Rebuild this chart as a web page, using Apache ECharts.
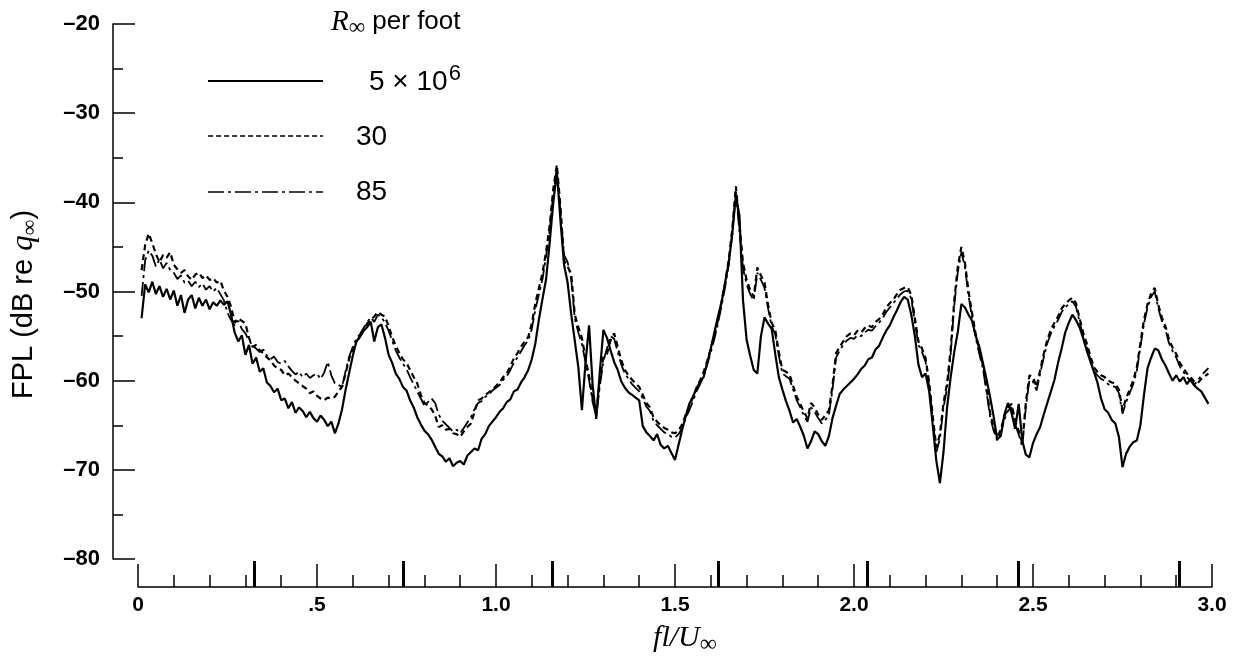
<!DOCTYPE html>
<html>
<head>
<meta charset="utf-8">
<title>FPL spectra</title>
<script src="https://cdn.jsdelivr.net/npm/echarts@6/dist/echarts.min.js"></script>
<style>
  html, body { margin: 0; padding: 0; background: #fff; }
  #chart { width: 1238px; height: 658px; }
</style>
</head>
<body>
<div id="chart"></div>
<script>
// frequency parameter fl/U∞
const freq = [
  0.01,0.02,0.03,0.04,0.05,0.06,0.07,0.08,0.09,0.10,
  0.11,0.12,0.13,0.14,0.15,0.16,0.17,0.18,0.19,0.20,
  0.21,0.22,0.23,0.24,0.25,0.26,0.27,0.28,0.29,0.30,
  0.31,0.32,0.33,0.34,0.35,0.36,0.37,0.38,0.39,0.40,
  0.41,0.42,0.43,0.44,0.45,0.46,0.47,0.48,0.49,0.50,
  0.51,0.52,0.53,0.54,0.55,0.56,0.57,0.58,0.59,0.60,
  0.61,0.62,0.63,0.64,0.65,0.66,0.67,0.68,0.69,0.70,
  0.71,0.72,0.73,0.74,0.75,0.76,0.77,0.78,0.79,0.80,
  0.81,0.82,0.83,0.84,0.85,0.86,0.87,0.88,0.89,0.90,
  0.91,0.92,0.93,0.94,0.95,0.96,0.97,0.98,0.99,1.00,
  1.01,1.02,1.03,1.04,1.05,1.06,1.07,1.08,1.09,1.10,
  1.11,1.12,1.13,1.14,1.15,1.16,1.17,1.18,1.19,1.20,
  1.21,1.22,1.23,1.24,1.25,1.26,1.27,1.28,1.29,1.30,
  1.31,1.32,1.33,1.34,1.35,1.36,1.37,1.38,1.39,1.40,
  1.41,1.42,1.43,1.44,1.45,1.46,1.47,1.48,1.49,1.50,
  1.51,1.52,1.53,1.54,1.55,1.56,1.57,1.58,1.59,1.60,
  1.61,1.62,1.63,1.64,1.65,1.66,1.67,1.68,1.69,1.70,
  1.71,1.72,1.73,1.74,1.75,1.76,1.77,1.78,1.79,1.80,
  1.81,1.82,1.83,1.84,1.85,1.86,1.87,1.88,1.89,1.90,
  1.91,1.92,1.93,1.94,1.95,1.96,1.97,1.98,1.99,2.00,
  2.01,2.02,2.03,2.04,2.05,2.06,2.07,2.08,2.09,2.10,
  2.11,2.12,2.13,2.14,2.15,2.16,2.17,2.18,2.19,2.20,
  2.21,2.22,2.23,2.24,2.25,2.26,2.27,2.28,2.29,2.30,
  2.31,2.32,2.33,2.34,2.35,2.36,2.37,2.38,2.39,2.40,
  2.41,2.42,2.43,2.44,2.45,2.46,2.47,2.48,2.49,2.50,
  2.51,2.52,2.53,2.54,2.55,2.56,2.57,2.58,2.59,2.60,
  2.61,2.62,2.63,2.64,2.65,2.66,2.67,2.68,2.69,2.70,
  2.71,2.72,2.73,2.74,2.75,2.76,2.77,2.78,2.79,2.80,
  2.81,2.82,2.83,2.84,2.85,2.86,2.87,2.88,2.89,2.90,
  2.91,2.92,2.93,2.94,2.95,2.96,2.97,2.98,2.99
];

// R∞ = 5 x 10^6 per foot (solid)
const fpl5e6 = [
  -53.0,-49.2,-50.1,-48.9,-50.3,-49.4,-50.6,-49.7,-50.9,-49.9,
  -51.6,-50.4,-52.4,-50.9,-50.4,-51.9,-50.7,-51.6,-50.9,-52.0,
  -51.2,-51.6,-51.0,-51.5,-51.1,-52.6,-54.6,-55.6,-54.9,-57.1,
  -56.0,-58.1,-57.4,-59.0,-58.6,-60.2,-60.6,-61.3,-60.9,-62.2,
  -62.0,-63.1,-62.4,-63.6,-63.0,-63.4,-64.1,-63.5,-64.2,-64.6,
  -63.9,-64.4,-65.1,-64.6,-65.9,-64.8,-63.2,-61.0,-59.1,-57.2,
  -55.6,-55.1,-54.4,-54.0,-53.4,-55.6,-54.0,-53.7,-55.2,-57.1,
  -58.0,-59.2,-59.8,-60.7,-61.1,-62.2,-63.0,-64.1,-64.9,-65.6,
  -66.0,-66.6,-67.4,-68.2,-68.5,-69.1,-68.7,-69.6,-69.2,-69.0,
  -69.4,-68.4,-68.0,-67.6,-67.8,-66.5,-66.0,-65.1,-64.6,-64.1,
  -63.5,-63.1,-62.4,-62.1,-61.2,-61.0,-60.2,-59.6,-58.8,-57.6,
  -55.8,-53.1,-50.8,-48.6,-44.5,-40.0,-36.6,-42.0,-47.0,-49.0,
  -52.5,-55.5,-58.5,-63.3,-58.0,-53.8,-60.5,-64.3,-59.0,-54.3,
  -55.2,-56.6,-57.9,-58.8,-60.1,-60.8,-61.3,-61.6,-61.9,-62.2,
  -65.1,-65.8,-66.2,-66.7,-66.0,-67.2,-67.6,-67.3,-68.1,-68.9,
  -67.2,-65.5,-64.0,-62.6,-61.8,-60.9,-60.1,-59.6,-58.0,-56.4,
  -54.6,-52.8,-51.2,-49.0,-46.8,-43.5,-39.2,-41.5,-51.0,-55.4,
  -57.2,-58.8,-59.2,-55.0,-52.9,-53.6,-54.2,-57.0,-59.6,-61.0,
  -62.3,-63.4,-64.7,-64.3,-65.2,-66.2,-67.6,-66.8,-65.7,-66.0,
  -66.8,-67.3,-66.2,-64.2,-62.8,-61.5,-61.0,-60.6,-60.2,-59.8,
  -59.3,-58.7,-58.3,-57.6,-57.4,-56.5,-56.1,-55.2,-54.4,-53.8,
  -52.9,-52.1,-51.2,-50.6,-50.9,-52.6,-55.0,-58.2,-59.6,-59.2,
  -61.2,-65.0,-69.0,-71.5,-68.0,-63.0,-59.6,-56.8,-54.5,-51.4,
  -51.8,-52.6,-53.3,-55.0,-56.2,-58.0,-59.8,-61.8,-64.0,-66.6,
  -66.2,-63.8,-62.5,-63.6,-65.4,-62.6,-66.7,-68.3,-68.6,-67.0,
  -66.0,-65.2,-63.8,-62.5,-61.2,-59.9,-58.0,-56.4,-54.6,-53.5,
  -52.6,-53.2,-54.0,-55.2,-56.6,-57.8,-59.0,-60.2,-62.0,-63.2,
  -63.6,-64.4,-64.8,-66.3,-69.7,-68.2,-67.4,-66.9,-66.7,-65.0,
  -61.6,-58.6,-57.4,-56.4,-56.6,-57.6,-58.3,-59.2,-60.0,-59.4,
  -60.1,-59.6,-60.4,-59.8,-60.5,-60.9,-61.2,-61.9,-62.6
];

// R∞ = 30 x 10^6 per foot (dashed)
const fpl30 = [
  -47.6,-44.8,-43.5,-44.6,-45.8,-46.7,-45.9,-46.2,-45.6,-47.0,
  -47.5,-47.9,-47.6,-48.3,-48.7,-48.1,-47.9,-48.5,-48.2,-48.7,
  -48.5,-49.0,-48.8,-49.9,-50.6,-51.7,-53.5,-53.0,-53.3,-53.6,
  -55.2,-56.2,-56.0,-56.6,-56.9,-57.4,-57.7,-58.3,-58.6,-58.8,
  -59.4,-59.2,-59.6,-60.0,-60.3,-60.6,-60.9,-61.4,-61.2,-61.7,
  -62.0,-62.2,-61.9,-62.0,-61.8,-61.2,-60.7,-59.2,-57.5,-56.4,
  -55.6,-55.1,-54.4,-53.6,-53.2,-52.8,-52.3,-52.6,-52.8,-53.9,
  -55.1,-56.1,-56.9,-57.6,-58.0,-58.8,-59.6,-60.3,-61.6,-62.5,
  -62.8,-63.2,-63.9,-65.2,-65.0,-65.5,-65.4,-65.9,-66.0,-66.3,
  -65.7,-65.2,-64.8,-63.5,-62.2,-62.0,-61.6,-61.3,-61.0,-60.6,
  -60.2,-59.6,-59.2,-58.4,-57.5,-56.9,-56.2,-55.6,-55.1,-53.6,
  -51.3,-49.6,-47.9,-45.5,-42.6,-38.5,-35.8,-40.5,-46.5,-47.2,
  -48.0,-52.6,-54.0,-55.2,-57.5,-59.5,-62.0,-63.6,-60.0,-57.3,
  -57.0,-55.5,-54.7,-56.2,-57.7,-58.8,-59.4,-59.9,-60.3,-60.7,
  -61.6,-62.5,-63.0,-64.1,-64.6,-65.0,-65.3,-65.5,-65.8,-65.9,
  -65.6,-64.9,-63.8,-62.9,-61.9,-60.8,-60.0,-59.0,-57.8,-56.4,
  -54.9,-53.2,-51.2,-49.0,-46.5,-43.0,-38.2,-42.5,-46.8,-48.7,
  -49.8,-50.6,-47.3,-48.2,-49.0,-51.5,-53.5,-54.3,-56.8,-58.8,
  -59.0,-59.3,-60.6,-61.8,-62.6,-63.5,-64.2,-62.5,-63.0,-63.8,
  -64.4,-63.9,-63.3,-60.5,-56.9,-56.2,-55.6,-55.0,-54.7,-54.9,
  -54.4,-54.6,-54.1,-53.8,-54.0,-53.4,-53.1,-52.6,-51.8,-51.3,
  -50.9,-50.3,-49.8,-49.6,-49.5,-50.4,-53.0,-55.6,-56.4,-57.5,
  -60.2,-64.0,-67.5,-66.0,-62.5,-60.3,-56.5,-51.0,-47.2,-45.0,
  -46.8,-50.0,-52.5,-54.8,-56.6,-58.2,-60.8,-63.6,-65.2,-66.3,
  -65.5,-64.0,-63.0,-62.6,-64.5,-65.6,-67.0,-62.5,-59.4,-59.6,
  -60.7,-58.8,-57.0,-55.4,-54.3,-53.5,-52.8,-51.9,-51.4,-51.0,
  -50.7,-51.3,-53.0,-54.6,-55.8,-57.2,-58.5,-59.0,-59.4,-59.6,
  -60.0,-60.2,-60.3,-61.0,-63.3,-62.0,-61.0,-60.0,-58.5,-55.8,
  -53.2,-51.4,-50.2,-49.6,-51.5,-52.9,-53.9,-55.4,-56.3,-57.0,
  -58.0,-58.6,-59.2,-59.6,-60.1,-60.3,-59.8,-59.5,-59.2
];

// R∞ = 85 x 10^6 per foot (dash-dot)
const fpl85 = [
  -50.5,-46.5,-45.4,-46.0,-47.2,-46.4,-47.4,-46.8,-47.6,-47.9,
  -48.6,-48.2,-49.0,-48.8,-49.4,-48.9,-49.5,-49.1,-49.8,-49.4,
  -50.0,-49.6,-50.3,-51.0,-52.4,-53.2,-53.8,-53.3,-54.2,-54.7,
  -55.5,-56.0,-56.4,-56.8,-56.5,-57.2,-57.6,-57.3,-57.9,-58.1,
  -57.8,-58.4,-58.9,-59.3,-59.0,-59.6,-59.2,-59.7,-59.4,-59.2,
  -59.8,-59.1,-57.9,-59.4,-60.3,-60.5,-60.7,-58.9,-57.3,-56.2,
  -55.3,-54.8,-54.1,-53.5,-52.9,-53.4,-52.6,-52.9,-53.5,-54.4,
  -55.5,-56.6,-57.4,-58.1,-58.7,-59.6,-60.4,-61.2,-62.0,-62.8,
  -62.4,-62.0,-62.5,-63.8,-64.5,-64.9,-65.3,-65.7,-65.5,-65.9,
  -65.3,-64.7,-64.1,-63.2,-62.5,-62.3,-61.8,-61.6,-61.1,-60.8,
  -60.5,-59.9,-59.5,-58.8,-58.0,-57.4,-56.7,-56.0,-55.5,-54.2,
  -52.0,-50.3,-48.6,-46.0,-43.1,-39.0,-36.2,-41.0,-45.9,-46.7,
  -48.6,-53.0,-54.6,-55.9,-57.9,-59.9,-62.4,-64.0,-60.6,-57.8,
  -56.4,-55.0,-55.3,-56.8,-58.2,-59.2,-59.8,-60.4,-60.8,-61.2,
  -62.0,-62.9,-63.4,-64.5,-65.0,-65.4,-65.8,-66.0,-66.3,-66.4,
  -66.0,-65.3,-64.2,-63.3,-62.3,-61.2,-60.4,-59.5,-58.2,-56.8,
  -55.3,-53.6,-51.6,-49.5,-47.0,-43.6,-38.8,-43.2,-47.4,-49.2,
  -50.3,-51.0,-47.9,-48.7,-49.6,-51.9,-53.9,-54.8,-57.2,-59.2,
  -59.5,-59.8,-61.0,-62.2,-63.0,-63.9,-64.6,-63.0,-63.5,-64.2,
  -64.8,-64.4,-63.8,-61.0,-57.4,-56.6,-56.0,-55.5,-55.2,-55.3,
  -54.9,-55.0,-54.6,-54.3,-54.4,-53.9,-53.5,-53.0,-52.3,-51.8,
  -51.3,-50.8,-50.3,-50.0,-49.9,-50.8,-53.4,-56.0,-56.8,-57.9,
  -60.6,-64.4,-68.0,-66.5,-63.0,-60.8,-57.0,-51.6,-47.8,-45.6,
  -47.3,-50.5,-53.0,-55.2,-57.0,-58.6,-61.2,-64.0,-65.6,-66.7,
  -65.9,-64.4,-63.4,-63.0,-64.9,-66.0,-67.4,-63.0,-59.9,-60.1,
  -61.1,-59.2,-57.4,-55.8,-54.7,-53.9,-53.2,-52.3,-51.8,-51.4,
  -51.1,-51.7,-53.4,-55.0,-56.2,-57.6,-58.9,-59.4,-59.8,-60.0,
  -60.4,-60.6,-60.7,-61.4,-63.7,-62.4,-61.4,-60.4,-58.9,-56.2,
  -53.6,-51.8,-50.6,-50.0,-51.9,-53.3,-54.3,-55.8,-56.7,-57.4,
  -58.4,-59.0,-59.6,-60.0,-60.5,-60.0,-59.4,-59.0,-58.6
];

// tall marker ticks along the frequency axis
const markerTicks = [0.325, 0.742, 1.158, 1.62, 2.038, 2.46, 2.908];
const xTickLabels = ['0', '.5', '1.0', '1.5', '2.0', '2.5', '3.0'];
const legendLabels = ['30', '85'];

const black = '#000';
const sans = 'Liberation Sans';
const serif = 'Liberation Serif';

function pairs(ys) {
  return freq.map((f, i) => [f, ys[i]]);
}

const option = {
  animation: false,
  backgroundColor: '#fff',
  grid: { left: 138, right: 26, top: 24, bottom: 99, outerBoundsMode: 'none' },
  xAxis: [
    {
      type: 'value',
      position: 'bottom',
      min: 0,
      max: 3,
      interval: 0.5,
      offset: 28,
      axisLine: { show: true, onZero: false, lineStyle: { color: black, width: 1.5 } },
      axisTick: { show: true, inside: true, length: 23, lineStyle: { color: black, width: 1.5 } },
      minorTick: { show: true, splitNumber: 5, length: 12, lineStyle: { color: black, width: 1.5 } },
      splitLine: { show: false },
      axisLabel: {
        color: black,
        fontSize: 21,
        fontWeight: 'bold',
        fontFamily: sans,
        margin: 8,
        formatter: function (v) {
          return xTickLabels[Math.round(v / 0.5)];
        }
      },
      name: '{i|fl/U}{s|∞}',
      nameLocation: 'middle',
      nameGap: 32,
      nameTextStyle: {
        padding: [0, 0, 0, 20],
        rich: {
          i: { fontFamily: serif, fontStyle: 'italic', fontSize: 30, color: black },
          s: { fontFamily: serif, fontSize: 24, color: black, padding: [14, 0, 0, 0] }
        }
      }
    },
    {
      type: 'value',
      position: 'bottom',
      min: 0,
      max: 3,
      offset: 28,
      axisLine: { show: false, onZero: false },
      axisTick: {
        show: true,
        inside: true,
        length: 26,
        customValues: markerTicks,
        lineStyle: { color: black, width: 3 }
      },
      axisLabel: { show: false },
      splitLine: { show: false }
    }
  ],
  yAxis: {
    type: 'value',
    min: -80,
    max: -20,
    interval: 10,
    offset: 25,
    axisLine: { show: true, onZero: false, lineStyle: { color: black, width: 1.5 } },
    axisTick: { show: true, inside: true, length: 22, lineStyle: { color: black, width: 1.5 } },
    minorTick: { show: true, splitNumber: 2, length: 10, lineStyle: { color: black, width: 1.5 } },
    splitLine: { show: false },
    axisLabel: {
      color: black,
      fontSize: 22,
      fontWeight: 'bold',
      fontFamily: sans,
      margin: 13,
      formatter: function (v) {
        return v < 0 ? '\u2013' + (-v) : String(v);
      }
    },
    name: '{a|FPL (dB re }{q|q}{s|∞}{a|)}',
    nameLocation: 'middle',
    nameGap: 72,
    nameTextStyle: {
      padding: [0, 26, 0, 0],
      rich: {
        a: { fontFamily: sans, fontSize: 29, color: black },
        q: { fontFamily: serif, fontStyle: 'italic', fontSize: 31, color: black },
        s: { fontFamily: serif, fontSize: 22, color: black, padding: [12, 0, 0, 0] }
      }
    }
  },
  series: [
    {
      name: '5 × 10^6',
      type: 'line',
      showSymbol: false,
      data: pairs(fpl5e6),
      lineStyle: { color: black, width: 2.2 }
    },
    {
      name: '30',
      type: 'line',
      showSymbol: false,
      data: pairs(fpl30),
      lineStyle: { color: black, width: 2.2, type: [6, 4] }
    },
    {
      name: '85',
      type: 'line',
      showSymbol: false,
      data: pairs(fpl85),
      lineStyle: { color: black, width: 1.8, type: [14, 4, 3, 4] }
    }
  ],
  graphic: [
    {
      type: 'text',
      x: 331,
      y: 22,
      style: {
        text: '{r|R}{s|∞}{t| per foot}',
        verticalAlign: 'middle',
        rich: {
          r: { fontFamily: serif, fontStyle: 'italic', fontSize: 29, fill: black },
          s: { fontFamily: serif, fontSize: 23, fill: black, padding: [12, 0, 0, 0] },
          t: { fontFamily: sans, fontSize: 26, fill: black }
        }
      }
    },
    {
      type: 'line',
      shape: { x1: 208, y1: 81, x2: 323, y2: 81 },
      style: { stroke: black, lineWidth: 2 }
    },
    {
      type: 'line',
      shape: { x1: 208, y1: 136, x2: 323, y2: 136 },
      style: { stroke: black, lineWidth: 1.5, lineDash: [5, 3] }
    },
    {
      type: 'line',
      shape: { x1: 208, y1: 192, x2: 323, y2: 192 },
      style: { stroke: black, lineWidth: 1.5, lineDash: [16, 4, 3, 4] }
    },
    {
      type: 'text',
      x: 369,
      y: 82,
      style: {
        text: '{a|5 × 10}{b|6}',
        verticalAlign: 'middle',
        rich: {
          a: { fontFamily: sans, fontSize: 28, fill: black },
          b: { fontFamily: sans, fontSize: 22, fill: black, padding: [0, 0, 16, 1] }
        }
      }
    },
    {
      type: 'text',
      x: 356,
      y: 137,
      style: { text: legendLabels[0], fontFamily: sans, fontSize: 28, fill: black, verticalAlign: 'middle' }
    },
    {
      type: 'text',
      x: 356,
      y: 192,
      style: { text: legendLabels[1], fontFamily: sans, fontSize: 28, fill: black, verticalAlign: 'middle' }
    }
  ]
};

const myChart = echarts.init(document.getElementById('chart'));
myChart.setOption(option);
window.addEventListener('resize', function () {
  myChart.resize();
});
</script>
</body>
</html>
